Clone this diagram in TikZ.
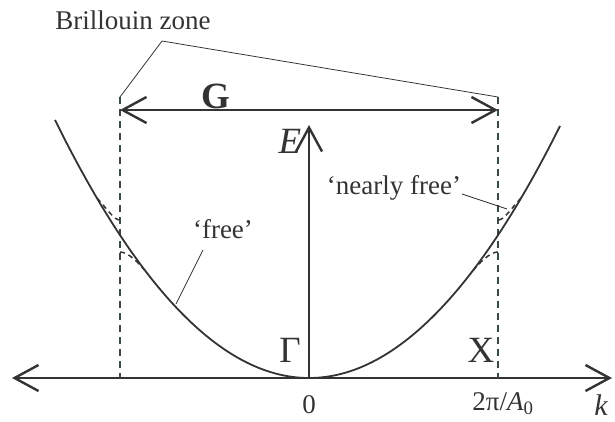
\documentclass[tikz,border=0pt]{standalone}
\usepackage{fontspec}
\setmainfont{Liberation Serif}
\usetikzlibrary{arrows.meta}
\definecolor{ink}{HTML}{333333}
\definecolor{dashink}{HTML}{3A4A48}
\begin{document}
\begin{tikzpicture}[x=1pt,y=-1pt,
  every node/.style={font=\fontsize{27}{30}\selectfont, text=ink, inner sep=0pt},
  big/.style={font=\fontsize{37}{40}\selectfont},
  axis/.style={draw=ink, line width=2.4pt, -{Straight Barb[length=24pt,width=26pt,line width=2.4pt]}},
  garrow/.style={draw=ink, line width=2.4pt, {Straight Barb[length=24pt,width=26pt,line width=2.4pt]}-{Straight Barb[length=24pt,width=26pt,line width=2.4pt]}},
  zone/.style={draw=dashink, line width=1.4pt, dash pattern=on 7pt off 5pt},
  band/.style={draw=ink, line width=1.5pt, dash pattern=on 5pt off 4pt},
  leader/.style={draw=ink, line width=0.8pt},
  curve/.style={draw=ink, line width=1.8pt}]
\useasboundingbox (0,0) rectangle (615,421);
% coordinates
\coordinate (kL) at (12,378);
\coordinate (kR) at (612,378);
\coordinate (O) at (309,378);
\coordinate (Etop) at (309,125);
\coordinate (zL) at (120,97);
\coordinate (zR) at (498,97);
\coordinate (zLb) at (120,378);
\coordinate (zRb) at (498,378);
\coordinate (gL) at (120,110);
\coordinate (gR) at (498,110);
\coordinate (bend) at (162,41);
% axes
\draw[axis] (O) -- (kL);
\draw[axis] (O) -- (kR);
\draw[axis] (O) -- (Etop);
% zone boundaries
\draw[zone] (zL) -- (zLb);
\draw[zone] (zR) -- (zRb);
% G arrow
\draw[garrow] (gL) -- (gR);
% parabola
\draw[curve] plot[domain=55:560,samples=120,smooth] (\x,{378-(0.06325*(\x-309))^2});
% nearly free bands
\draw[band] (97,198) .. controls (108,210) and (114,220) .. (120,220);
\draw[band] (120,252) .. controls (128,252) and (138,262) .. (147,273);
\draw[band] (521,198) .. controls (510,210) and (504,220) .. (498,220);
\draw[band] (498,252) .. controls (490,252) and (480,262) .. (471,273);
% labels
\node (bz) at (133,20) {Brillouin zone};
\draw[leader] (zL) -- (bend) -- (zR);
\node[big] (G) at (216,96) {\bfseries G};
\node[big] (E) at (290,141) {\itshape E};
\node (free) at (223,229) {‘free’};
\coordinate (freeA) at (203,250);
\coordinate (freeB) at (176,304);
\draw[leader] (freeA) -- (freeB);
\node (nf) at (394,188) {‘nearly free’};
\coordinate (nfA) at (462,194);
\coordinate (nfB) at (507,209);
\draw[leader] (nfA) -- (nfB);
\node[big] (Gam) at (290,350) {Γ};
\node[big] (X) at (481,350) {X};
\node (zero) at (309,405) {0};
\node (ka) at (503,404) {2π/\textit{A}\textsubscript{0}};
\node[font=\fontsize{30}{32}\selectfont] (k) at (601,405) {\itshape k};
\end{tikzpicture}
\end{document}
